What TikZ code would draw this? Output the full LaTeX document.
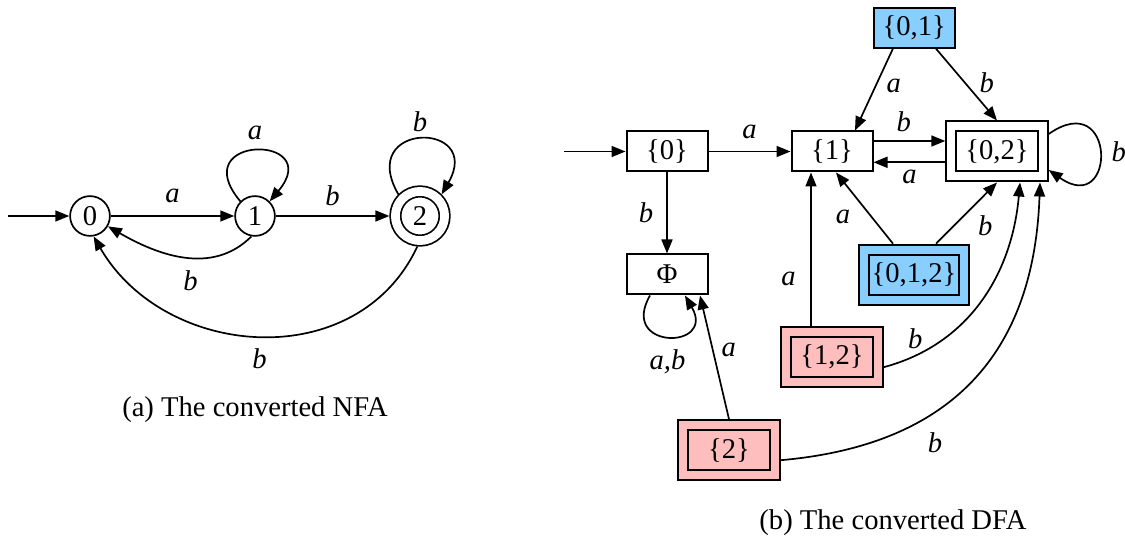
\documentclass[tikz,border=0pt]{standalone}
\usepackage{fontspec}
\setmainfont{Liberation Serif}
\usetikzlibrary{arrows.meta}
\definecolor{setblue}{RGB}{136,206,255}
\definecolor{setpink}{RGB}{255,190,190}

\begin{document}
\begin{tikzpicture}[
  x=0.5pt, y=0.5pt,
  >={Triangle[length=7pt,width=5.5pt]},
  font=\fontsize{14.3}{17}\selectfont,
  st/.style={draw, circle, line width=0.85pt, minimum size=19.9pt, inner sep=0pt},
  acc/.style={st, double, double distance=4.4pt, minimum size=24.6pt, outer sep=3pt},
  box/.style={draw, line width=1pt, minimum width=40.5pt, minimum height=20pt, inner sep=0pt},
  accbox/.style={box, double, double distance=4pt, minimum width=45.7pt, minimum height=25pt, outer sep=3pt},
  arr/.style={->, line width=0.85pt},
  lbl/.style={font=\fontsize{14.3}{17}\selectfont\itshape, inner sep=0pt},
]
\useasboundingbox (0,0) rectangle (1125,541);

% NFA
\node[st] (n0) at (90,325) {0};
\node[st] (n1) at (255,325) {1};
\node[acc] (n2) at (420,325) {2};
\coordinate (nin) at (8,325);
\node (capa) at (255,131) {(a) The converted NFA};

\draw[arr] (nin) -- (n0);
\draw[arr] (n0) -- node[lbl, above=6pt] {a} (n1);
\draw[arr] (n1) -- node[lbl, above=4.5pt] {b} (n2);
\draw[arr] (n1.135) .. controls +(130:88) and +(50:88) .. node[lbl, above=5pt] {a} (n1.45);
\draw[arr] (n2.135) .. controls +(120:85) and +(60:85) .. node[lbl, above=3.5pt] {b} (n2.45);
\draw[arr] (n1.260) to[out=-135, in=-30] node[lbl, below=6pt, pos=0.45] {b} (n0.-30);
\draw[arr] (n2.-95) to[out=-115, in=-60, looseness=1.12] node[lbl, below=6pt] {b} (n0.-80);

% DFA
\node[box] (d0) at (667,389.5) {\{0\}};
\node[box] (d1) at (832,389.5) {\{1\}};
\node[accbox] (d02) at (997,389.5) {\{0,2\}};
\node[box, fill=setblue] (d01) at (914.3,513.3) {\{0,1\}};
\node[box] (dphi) at (667,266.5) {Φ};
\node[accbox, fill=setblue, double=setblue, minimum width=49.85pt] (d012) at (914,266.3) {\{0,1,2\}};
\node[accbox, fill=setpink, double=setpink] (d12) at (832,183.8) {\{1,2\}};
\node[accbox, fill=setpink, double=setpink] (d2) at (729,90.8) {\{2\}};
\coordinate (din) at (564,389.5);
\node (capb) at (893,18) {(b) The converted DFA};

\draw[arr] (din) -- (d0);
\draw[arr] (d0) -- node[lbl, above=6pt] {a} (d1);
\draw[arr] (d0) -- node[lbl, left=6.5pt] {b} (dphi);
\draw[arr] ([yshift=5.25pt]d1.east) -- node[lbl, above=4.25pt, pos=0.42] {b} ([yshift=5.25pt]d02.west);
\draw[arr] ([yshift=-5.4pt]d02.west) -- node[lbl, below=3.2pt] {a} ([yshift=-5.4pt]d1.east);
\draw[arr] ([xshift=-10.7pt]d01.south) -- node[lbl, right=5pt, pos=0.45] {a} ([xshift=11.5pt]d1.north);
\draw[arr] ([xshift=10.85pt]d01.south) -- node[lbl, right=7pt, pos=0.47] {b} (d02.north);
\draw[arr] ([yshift=8.75pt]d02.east) .. controls +(35:83) and +(-35:83) .. node[lbl, right=5.5pt] {b} ([yshift=-9.25pt]d02.east);
\draw[arr] ([xshift=-10.5pt]d012.north) -- node[lbl, left=10.5pt, pos=0.37] {a} ([xshift=2pt]d1.south);
\draw[arr] ([xshift=11pt]d012.north) -- node[lbl, right=11.5pt, pos=0.3] {b} (d02.south);
\draw[arr] ([xshift=-10.5pt]d12.north) -- node[lbl, left=7.3pt, pos=0.31] {a} ([xshift=-10.5pt]d1.south);
\draw[arr] ([yshift=-5pt]d12.east) to[out=15, in=-95] node[lbl, above=3pt, pos=0.13] {b} ([xshift=11.5pt]d02.south);
\draw[arr] ([yshift=-5pt]d2.east) to[out=5, in=-92, looseness=1.15] node[lbl, below=8pt, xshift=3.5pt, pos=0.35] {b} ([xshift=21.5pt]d02.south);
\draw[arr] (d2.north) -- node[lbl, right=4pt, pos=0.56] {a} ([xshift=16.5pt]dphi.south);
\draw[arr] ([xshift=-8.5pt]dphi.south) .. controls +(-120:63) and +(-60:63) .. node[lbl, below=6pt] {a,b} ([xshift=9pt]dphi.south);
\end{tikzpicture}
\end{document}
